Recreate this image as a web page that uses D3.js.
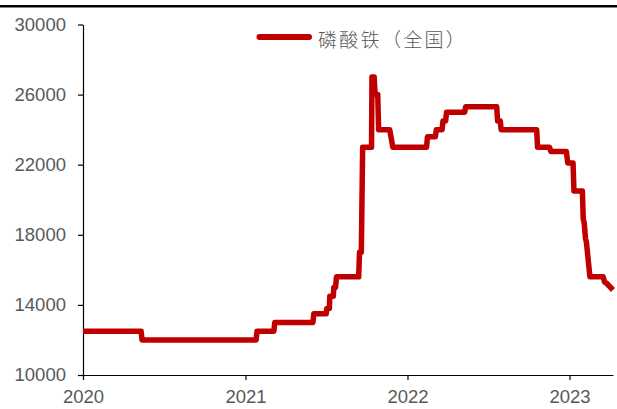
<!DOCTYPE html>
<html>
<head>
<meta charset="utf-8">
<script src="https://cdn.jsdelivr.net/npm/d3@7/dist/d3.min.js"></script>
<style>
  html, body { margin: 0; padding: 0; background: #fff; }
  svg { display: block; }
</style>
</head>
<body>
<svg id="chart" width="617" height="409"></svg>
<script>
// 磷酸铁（全国）价格（元/吨），按调价日记录：每次调价前后各一点
const dates = [
  "2020-01-01", "2020-05-11", "2020-05-13", "2021-01-25", "2021-01-27",
  "2021-03-06", "2021-03-08", "2021-06-02", "2021-06-04", "2021-07-02",
  "2021-07-03", "2021-07-09", "2021-07-10", "2021-07-18", "2021-07-19",
  "2021-07-23", "2021-07-25", "2021-09-13", "2021-09-15", "2021-09-19",
  "2021-09-22", "2021-10-12", "2021-10-13", "2021-10-18", "2021-10-20",
  "2021-10-26", "2021-10-28", "2021-11-22", "2021-11-29", "2022-02-13",
  "2022-02-15", "2022-03-05", "2022-03-07", "2022-03-20", "2022-03-22",
  "2022-03-28", "2022-03-30", "2022-05-10", "2022-05-12", "2022-07-21",
  "2022-07-23", "2022-07-29", "2022-07-31", "2022-10-19", "2022-10-21",
  "2022-11-17", "2022-11-20", "2022-12-25", "2022-12-28", "2023-01-09",
  "2023-01-11", "2023-01-30", "2023-02-01", "2023-02-03", "2023-02-06",
  "2023-02-08", "2023-02-16", "2023-03-18", "2023-03-21", "2023-03-25",
  "2023-04-09"
];
const prices = [
  12500, 12500, 12000, 12000, 12500,
  12500, 13000, 13000, 13500, 13500,
  13800, 13800, 14500, 14500, 15000,
  15000, 15600, 15600, 17000, 17000,
  23000, 23000, 27000, 27000, 26000,
  26000, 24000, 24000, 23000, 23000,
  23600, 23600, 24000, 24000, 24500,
  24500, 25000, 25000, 25300, 25300,
  24500, 24500, 24000, 24000, 23000,
  23000, 22750, 22750, 22100, 22100,
  20500, 20500, 18900, 18700, 17800,
  17600, 15600, 15600, 15300, 15250,
  14850
];
const seriesName = "磷酸铁（全国）";
const yTicks = [10000, 14000, 18000, 22000, 26000, 30000];
const xTicks = ["2020-01-01", "2021-01-01", "2022-01-01", "2023-01-01"];
const xDomain = ["2020-01-01", "2023-04-09"];
const yDomain = [10000, 30000];

const parse = d3.utcParse("%Y-%m-%d");
const points = dates.map((d, i) => ({ date: parse(d), value: prices[i] }));

const svg = d3.select("#chart");
const red = "#C00000";
const labelColor = "#595959";

const x = d3.scaleUtc().domain(xDomain.map(parse)).range([83, 613]);
const y = d3.scaleLinear().domain(yDomain).range([375, 24.5]);

// top rule
svg.append("line")
  .attr("x1", 0).attr("x2", 617)
  .attr("y1", 6.2).attr("y2", 6.2)
  .attr("stroke", "#000").attr("stroke-width", 2.5);

// y axis
const yAxis = svg.append("g")
  .attr("transform", "translate(83,0)")
  .call(d3.axisLeft(y).tickValues(yTicks).tickFormat(d3.format("d"))
    .tickSize(5).tickSizeOuter(0).tickPadding(12));

// x axis
const xAxis = svg.append("g")
  .attr("transform", "translate(0,375)")
  .call(d3.axisBottom(x).tickValues(xTicks.map(parse)).tickFormat(d3.utcFormat("%Y"))
    .tickSize(5).tickSizeOuter(0).tickPadding(10));

[yAxis, xAxis].forEach(g => {
  g.select(".domain").attr("stroke", "#000").attr("stroke-width", 1.2);
  g.selectAll(".tick line").attr("stroke", "#000").attr("stroke-width", 1.2);
  g.selectAll(".tick text")
    .attr("fill", labelColor)
    .style("font-family", "'Liberation Sans', Arial, sans-serif")
    .style("font-size", "18.5px");
});

// price line
const line = d3.line()
  .x(d => x(d.date))
  .y(d => y(d.value));

svg.append("path")
  .datum(points)
  .attr("fill", "none")
  .attr("stroke", red)
  .attr("stroke-width", 5.5)
  .attr("stroke-linejoin", "round")
  .attr("stroke-linecap", "butt")
  .attr("d", line);

// legend
const legend = svg.append("g");
legend.append("line")
  .attr("x1", 259.5).attr("x2", 309)
  .attr("y1", 37).attr("y2", 37)
  .attr("stroke", red).attr("stroke-width", 6)
  .attr("stroke-linecap", "round");
legend.append("text")
  .attr("x", 318).attr("y", 38.5)
  .attr("dominant-baseline", "central")
  .attr("fill", labelColor)
  .style("font-family", "'Noto Sans CJK SC', sans-serif")
  .style("font-weight", 300)
  .style("font-size", "19px")
  .style("letter-spacing", "2.3px")
  .text(seriesName);
</script>
</body>
</html>
